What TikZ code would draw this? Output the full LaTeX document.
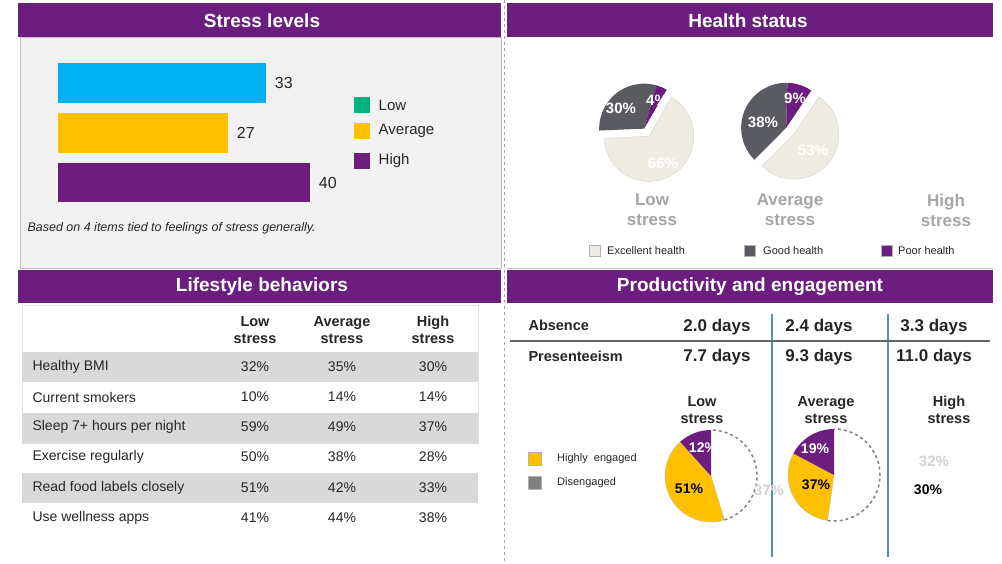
\documentclass[tikz,border=0pt]{standalone}
\usepackage{fontspec}
\setmainfont{Liberation Sans}
\usetikzlibrary{positioning}
\definecolor{hdrpurple}{RGB}{108,30,126}
\definecolor{lowblue}{RGB}{0,176,240}
\definecolor{avgyellow}{RGB}{255,192,0}
\definecolor{lowgreen}{RGB}{0,178,130}
\definecolor{panelgray}{RGB}{242,242,242}
\definecolor{panelline}{RGB}{196,186,204}
\definecolor{excfill}{RGB}{238,236,226}
\definecolor{goodfill}{RGB}{90,91,96}
\definecolor{labgray}{RGB}{166,166,166}
\definecolor{rowgray}{RGB}{217,217,217}
\definecolor{tealline}{RGB}{80,148,172}
\definecolor{disgray}{RGB}{128,128,128}
\definecolor{txt}{RGB}{38,38,38}

\begin{document}
\begin{tikzpicture}[x=1pt,y=-1pt,
  hdrtext/.style={text=white,font=\fontsize{19}{22}\selectfont\bfseries},
  bar/.style={anchor=north west,inner sep=0pt,minimum height=40pt},
  val/.style={text=txt,font=\fontsize{16}{19}\selectfont},
  key/.style={inner sep=0pt,minimum size=16pt},
  keytext/.style={text=txt,font=\fontsize{15}{18}\selectfont},
  pct/.style={text=white,font=\fontsize{15}{18}\selectfont\bfseries},
  stresslab/.style={text=labgray,align=center,font=\fontsize{17}{20}\selectfont\bfseries},
  smallkey/.style={inner sep=0pt,minimum size=11pt,draw=gray!60},
  smalltext/.style={text=txt,font=\fontsize{11}{13}\selectfont},
  colhead/.style={text=txt,align=center,font=\fontsize{14.5}{17}\selectfont\bfseries},
  rowtext/.style={text=txt,anchor=west,font=\fontsize{14}{17}\selectfont},
  cell/.style={text=txt,font=\fontsize{14}{17}\selectfont},
  rowtitle/.style={text=txt,anchor=west,font=\fontsize{14.5}{17}\selectfont\bfseries},
  days/.style={text=txt,font=\fontsize{17}{20}\selectfont\bfseries},
  prodhead/.style={text=txt,align=center,font=\fontsize{14.5}{16.5}\selectfont\bfseries},
  engpct/.style={font=\fontsize{14}{17}\selectfont\bfseries},
  ghost/.style={text=gray!35,font=\fontsize{15}{18}\selectfont\bfseries}]

\useasboundingbox (0,0) rectangle (1002,564);
\fill[white] (0,0) rectangle (1002,564);

% stress levels
\fill[panelgray,draw=panelline] (20,37) rectangle (501,268);
\fill[hdrpurple] (18,3) rectangle (501,37);
\node[hdrtext] (stresstitle) at (262,21) {Stress levels};

\node[bar,fill=lowblue,minimum width=208pt] (barlow) at (58,63) {};
\node[bar,fill=avgyellow,minimum width=170pt] (baravg) at (58,113) {};
\node[bar,fill=hdrpurple,minimum width=252pt,minimum height=39pt] (barhigh) at (58,163) {};
\node[val,right=5pt of barlow] (vlow) {33};
\node[val,right=5pt of baravg] (vavg) {27};
\node[val,right=5pt of barhigh] (vhigh) {40};

\node[key,fill=lowgreen] (klow) at (362,105) {};
\node[key,fill=avgyellow] (kavg) at (362,131) {};
\node[key,fill=hdrpurple] (khigh) at (362,161) {};
\node[keytext,right=5pt of klow] (tlow) {Low};
\node[keytext,right=5pt of kavg] (tavg) {Average};
\node[keytext,right=5pt of khigh] (thigh) {High};

\node[text=txt,anchor=west,font=\fontsize{12.5}{15}\selectfont\itshape] (note) at (24,228)
  {Based on 4 items tied to feelings of stress generally.};

% health status
\fill[hdrpurple] (507,3) rectangle (993,37);
\node[hdrtext] (healthtitle) at (748,21) {Health status};
\draw[panelline] (507,268) -- (993,268);

\begin{scope}[shift={(646.5,132.5)},yscale=-1]
  \fill[excfill,draw=gray!35] (-58.8:4.5) -- ++(60:45) arc[start angle=60,end angle=-177.6,radius=45] -- cycle;
  \fill[goodfill] (121.2:4.5) -- ++(182.4:45) arc[start angle=182.4,end angle=74.4,radius=45] -- cycle;
  \fill[hdrpurple] (121.2:4.5) -- ++(74.4:45) arc[start angle=74.4,end angle=60,radius=45] -- cycle;
\end{scope}
\begin{scope}[shift={(790,131)},yscale=-1]
  \fill[excfill,draw=gray!35] (-39.4:5) -- ++(56:45) arc[start angle=56,end angle=-134.8,radius=45] -- cycle;
  \fill[goodfill] (140.6:5) -- ++(225.2:45) arc[start angle=225.2,end angle=88.4,radius=45] -- cycle;
  \fill[hdrpurple] (140.6:5) -- ++(88.4:45) arc[start angle=88.4,end angle=56,radius=45] -- cycle;
\end{scope}
\node[pct] (lowgood) at (621,108) {30\%};
\node[pct] (lowpoor) at (657,100) {4\%};
\node[pct] (lowexc) at (663,163) {66\%};
\node[pct] (avggood) at (763,122) {38\%};
\node[pct] (avgpoor) at (795,98) {9\%};
\node[pct] (avgexc) at (813,150) {53\%};

\node[stresslab] (hslow) at (652,210) {Low\\stress};
\node[stresslab] (hsavg) at (790,210) {Average\\stress};
\node[stresslab] (hshigh) at (946,210) {High\\stress};

\node[smallkey,fill=excfill] (kexc) at (595,251) {};
\node[smallkey,fill=goodfill] (kgood) at (750,251) {};
\node[smallkey,fill=hdrpurple] (kpoor) at (887,251) {};
\node[smalltext,right=3pt of kexc] (texc) {Excellent health};
\node[smalltext,right=4pt of kgood] (tgood) {Good health};
\node[smalltext,right=2pt of kpoor] (tpoor) {Poor health};

% lifestyle behaviors
\fill[hdrpurple] (18,270) rectangle (501,303);
\node[hdrtext] (lifetitle) at (262,287) {Lifestyle behaviors};
\draw[gray!25] (22,305) rectangle (478,443);
\fill[rowgray] (22,352) rectangle (478,382);
\fill[rowgray] (22,413) rectangle (478,443);
\fill[rowgray] (22,473) rectangle (478,503);

\node[colhead] (hlow) at (255,330) {Low\\stress};
\node[colhead] (havg) at (342,330) {Average\\stress};
\node[colhead] (hhigh) at (433,330) {High\\stress};

\node[rowtext] (bmi) at (29,367) {Healthy BMI};
\node[cell] (bmil) at (255,367) {32\%};
\node[cell] (bmia) at (342,367) {35\%};
\node[cell] (bmih) at (433,367) {30\%};
\node[rowtext] (smoke) at (29,397) {Current smokers};
\node[cell] (smokel) at (255,397) {10\%};
\node[cell] (smokea) at (342,397) {14\%};
\node[cell] (smokeh) at (433,397) {14\%};
\node[rowtext] (sleep) at (29,427) {Sleep 7+ hours per night};
\node[cell] (sleepl) at (255,427) {59\%};
\node[cell] (sleepa) at (342,427) {49\%};
\node[cell] (sleeph) at (433,427) {37\%};
\node[rowtext] (exer) at (29,457) {Exercise regularly};
\node[cell] (exerl) at (255,457) {50\%};
\node[cell] (exera) at (342,457) {38\%};
\node[cell] (exerh) at (433,457) {28\%};
\node[rowtext] (food) at (29,488) {Read food labels closely};
\node[cell] (foodl) at (255,488) {51\%};
\node[cell] (fooda) at (342,488) {42\%};
\node[cell] (foodh) at (433,488) {33\%};
\node[rowtext] (apps) at (29,518) {Use wellness apps};
\node[cell] (appsl) at (255,518) {41\%};
\node[cell] (appsa) at (342,518) {44\%};
\node[cell] (appsh) at (433,518) {38\%};

% productivity and engagement
\fill[hdrpurple] (507,270) rectangle (993,303);
\node[hdrtext] (prodtitle) at (750,287) {Productivity and engagement};

\draw[tealline,line width=1.8pt] (772,314) -- (772,557);
\draw[tealline,line width=1.8pt] (888,314) -- (888,557);
\draw[gray!80!black,line width=1.5pt] (510,341) -- (990,341);

\node[rowtitle] (absence) at (525,325) {Absence};
\node[days] (absl) at (717,327) {2.0 days};
\node[days] (absa) at (819,327) {2.4 days};
\node[days] (absh) at (934,327) {3.3 days};
\node[rowtitle] (present) at (525,356) {Presenteeism};
\node[days] (presl) at (717,357) {7.7 days};
\node[days] (presa) at (819,357) {9.3 days};
\node[days] (presh) at (934,357) {11.0 days};

\node[prodhead] (plow) at (702,410) {Low\\stress};
\node[prodhead] (pavg) at (826,410) {Average\\stress};
\node[prodhead] (phigh) at (949,410) {High\\stress};

\node[smallkey,fill=avgyellow,minimum size=13pt] (keng) at (535,459) {};
\node[smallkey,fill=disgray,minimum size=13pt] (kdis) at (535,483) {};
\node[smalltext,right=12pt of keng] (teng) {Highly\ \ engaged};
\node[smalltext,right=12pt of kdis] (tdis) {Disengaged};

\begin{scope}[shift={(711,476)},yscale=-1]
  \fill[avgyellow,draw=gray!50] (0,0) -- (132:46) arc[start angle=132,end angle=287,radius=46] -- cycle;
  \fill[hdrpurple] (0,0) -- (90:46) arc[start angle=90,end angle=132,radius=46] -- cycle;
  \draw[disgray,dashed,line width=1.5pt] (287:46) arc[start angle=287,end angle=450,radius=46];
\end{scope}
\begin{scope}[shift={(834,475)},yscale=-1]
  \fill[avgyellow,draw=gray!50] (0,0) -- (152:46) arc[start angle=152,end angle=262,radius=46] -- cycle;
  \fill[hdrpurple] (0,0) -- (90:46) arc[start angle=90,end angle=152,radius=46] -- cycle;
  \draw[disgray,dashed,line width=1.5pt] (262:46) arc[start angle=262,end angle=450,radius=46];
\end{scope}
\node[engpct,text=white] (elowdis) at (703,448) {12\%};
\node[engpct,text=black] (elowhi) at (689,489) {51\%};
\node[ghost] (elowmid) at (769,490) {37\%};
\node[engpct,text=white] (eavgdis) at (815,449) {19\%};
\node[engpct,text=black] (eavghi) at (816,485) {37\%};
\node[ghost] (ehighdis) at (934,461) {32\%};
\node[engpct,text=black] (ehighhi) at (928,490) {30\%};

% separator
\draw[gray!70,dashed,line width=0.8pt] (504,0) -- (504,564);
\end{tikzpicture}
\end{document}
